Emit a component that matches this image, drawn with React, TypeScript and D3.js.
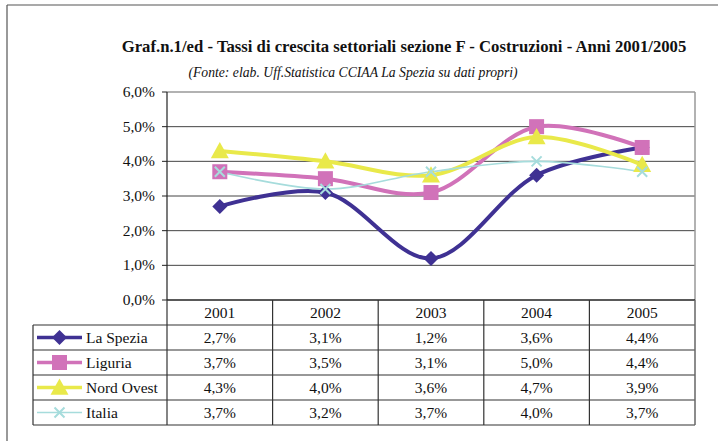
import React from 'react';
import * as d3 from 'd3';

const years = ['2001', '2002', '2003', '2004', '2005'];
const seriesNames = ['La Spezia', 'Liguria', 'Nord Ovest', 'Italia'];
const laSpezia = [2.7, 3.1, 1.2, 3.6, 4.4];
const liguria = [3.7, 3.5, 3.1, 5.0, 4.4];
const nordOvest = [4.3, 4.0, 3.6, 4.7, 3.9];
const italia = [3.7, 3.2, 3.7, 4.0, 3.7];
const yTicks = [0, 1, 2, 3, 4, 5, 6];

const title = 'Graf.n.1/ed - Tassi di crescita settoriali sezione F - Costruzioni - Anni 2001/2005';
const subtitle = '(Fonte: elab. Uff.Statistica CCIAA La Spezia su dati propri)';

const styles = [
  { color: '#3f3193', width: 4, marker: 'diamond' },
  { color: '#d172b9', width: 4, marker: 'square' },
  { color: '#e9e94a', width: 4, marker: 'triangle' },
  { color: '#a6dcdc', width: 1.6, marker: 'x' },
];

const fmt = (v: number) => v.toFixed(1).replace('.', ',') + '%';

function Marker({ type, x, y, color }: { type: string; x: number; y: number; color: string }) {
  if (type === 'diamond') {
    const s = 7.5;
    return <path d={`M${x},${y - s}L${x + s},${y}L${x},${y + s}L${x - s},${y}Z`} fill={color} />;
  }
  if (type === 'square') {
    const s = 7.5;
    return <rect x={x - s} y={y - s} width={2 * s} height={2 * s} fill={color} />;
  }
  if (type === 'triangle') {
    const s = 9;
    return <path d={`M${x},${y - s}L${x + s},${y + s * 0.8}L${x - s},${y + s * 0.8}Z`} fill={color} />;
  }
  const s = 5;
  return (
    <path
      d={`M${x - s},${y - s}L${x + s},${y + s}M${x + s},${y - s}L${x - s},${y + s}`}
      stroke={color}
      strokeWidth={2}
    />
  );
}

export default function App() {
  const W = 718;
  const H = 441;
  const left = 167;
  const right = 695;
  const top = 92;
  const bottom = 300;
  const rowH = 25;
  const legendLeft = 33;

  const x = d3.scaleBand<string>().domain(years).range([left, right]);
  const y = d3.scaleLinear().domain([0, 6]).range([bottom, top]);
  const allSeries = [laSpezia, liguria, nordOvest, italia];

  const line = d3
    .line<number>()
    .x((_, i) => (x(years[i]) as number) + x.bandwidth() / 2)
    .y((d) => y(d))
    .curve(d3.curveCatmullRom.alpha(0.5));

  const font = '"Liberation Serif", "Times New Roman", serif';
  const tableBottom = bottom + rowH * (seriesNames.length + 1);
  const fs = 15.5;

  return (
    <svg width={W} height={H} style={{ position: 'absolute', left: 0, top: 0 }} fontFamily={font}>
      <rect width={W} height={H} fill="#fff" />
      {/* outer frame */}
      <line x1={7} y1={5} x2={W} y2={5} stroke="#555" strokeWidth={1.2} />
      <line x1={7} y1={5} x2={7} y2={H} stroke="#555" strokeWidth={1.2} />

      <text x={404} y={52} textAnchor="middle" fontSize={16.7} fontWeight="bold" fill="#111">
        {title}
      </text>
      <text x={353} y={77} textAnchor="middle" fontSize={13.7} fontStyle="italic" fill="#111">
        {subtitle}
      </text>

      {/* gridlines */}
      {yTicks.map((t) => (
        <g key={t}>
          {t > 0 && t < 6 && (
            <line x1={left} x2={right} y1={y(t)} y2={y(t)} stroke="#444" strokeWidth={1} />
          )}
          <line x1={left - 5} x2={left} y1={y(t)} y2={y(t)} stroke="#222" strokeWidth={1} />
          <text x={155} y={y(t) + 5} textAnchor="end" fontSize={fs} fill="#111">
            {fmt(t)}
          </text>
        </g>
      ))}
      <line x1={left} x2={right} y1={top} y2={top} stroke="#999" strokeWidth={1.5} />
      <line x1={right} x2={right} y1={top} y2={bottom} stroke="#999" strokeWidth={1.5} />
      <line x1={left} x2={left} y1={top} y2={bottom} stroke="#222" strokeWidth={1.2} />

      {/* series */}
      {allSeries.map((s, k) => (
        <path
          key={k}
          d={line(s) as string}
          fill="none"
          stroke={styles[k].color}
          strokeWidth={styles[k].width}
          strokeLinejoin="round"
        />
      ))}
      {allSeries.map((s, k) =>
        s.map((v, i) => (
          <Marker
            key={`${k}-${i}`}
            type={styles[k].marker}
            x={(x(years[i]) as number) + x.bandwidth() / 2}
            y={y(v)}
            color={styles[k].color}
          />
        ))
      )}

      {/* data table */}
      <line x1={left} x2={right} y1={bottom} y2={bottom} stroke="#222" strokeWidth={1.5} />
      {seriesNames.map((_, r) => (
        <line
          key={r}
          x1={legendLeft}
          x2={right}
          y1={bottom + rowH * (r + 1)}
          y2={bottom + rowH * (r + 1)}
          stroke="#333"
          strokeWidth={1.2}
        />
      ))}
      <line x1={legendLeft} x2={right} y1={tableBottom} y2={tableBottom} stroke="#333" strokeWidth={1.2} />
      <line x1={legendLeft} x2={legendLeft} y1={bottom + rowH} y2={tableBottom} stroke="#333" strokeWidth={1.2} />
      {years.map((yr) => (
        <line
          key={yr}
          x1={x(yr) as number}
          x2={x(yr) as number}
          y1={bottom}
          y2={tableBottom}
          stroke="#333"
          strokeWidth={1.2}
        />
      ))}
      <line x1={right} x2={right} y1={bottom} y2={tableBottom} stroke="#666" strokeWidth={1.5} />

      {years.map((yr) => (
        <text
          key={yr}
          x={(x(yr) as number) + x.bandwidth() / 2}
          y={bottom + rowH / 2 + 5.5}
          textAnchor="middle"
          fontSize={fs}
          fill="#111"
        >
          {yr}
        </text>
      ))}
      {seriesNames.map((name, r) => {
        const cy = bottom + rowH * (r + 1) + rowH / 2;
        return (
          <g key={name}>
            <line x1={37} x2={82} y1={cy} y2={cy} stroke={styles[r].color} strokeWidth={styles[r].width * 0.9} />
            <Marker type={styles[r].marker} x={59.5} y={cy} color={styles[r].color} />
            <text x={86} y={cy + 5.5} fontSize={fs} fill="#111">
              {name}
            </text>
            {allSeries[r].map((v, i) => (
              <text
                key={i}
                x={(x(years[i]) as number) + x.bandwidth() / 2}
                y={cy + 5.5}
                textAnchor="middle"
                fontSize={fs}
                fill="#111"
              >
                {fmt(v)}
              </text>
            ))}
          </g>
        );
      })}
    </svg>
  );
}
